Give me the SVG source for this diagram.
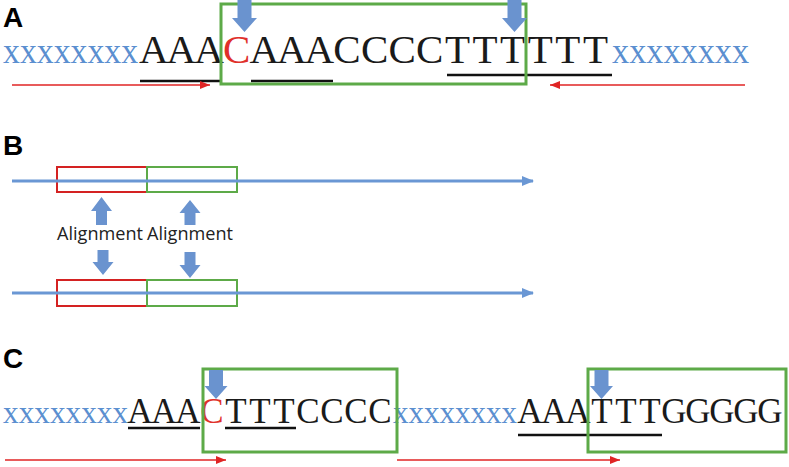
<svg xmlns="http://www.w3.org/2000/svg" width="789" height="467" viewBox="0 0 789 467">
<defs>
<style>
.lbl{font-family:"Liberation Sans",Arial,sans-serif;font-weight:bold;font-size:28px;fill:#000}
.xs{font-family:"Liberation Serif","Times New Roman",serif;fill:#5b8fd0}
.seqA{font-family:"Liberation Serif","Times New Roman",serif;font-size:41px;fill:#1a1a1a;text-anchor:middle}
.seqC{font-family:"Liberation Serif","Times New Roman",serif;font-size:35px;fill:#1a1a1a;text-anchor:middle}
.red{fill:#e0302a}
.ul{stroke:#111;stroke-width:2.5;fill:none}
.gbox{fill:none;stroke:#5daa48;stroke-width:3}
.rbox{fill:none;stroke:#d42222;stroke-width:2}
.gbox2{fill:none;stroke:#5daa48;stroke-width:2}
.blk{fill:#6a93cf}
.bline{stroke:#6a97d4;stroke-width:3;fill:none}
.rarrow{stroke:#e02424;stroke-width:1.5;fill:none;marker-end:url(#rh)}
.al{font-family:"Open Sans","Liberation Sans",sans-serif;font-size:18px;fill:#222}
</style>
<marker id="rh" viewBox="0 0 10 8" refX="10" refY="4" markerWidth="10" markerHeight="8" markerUnits="userSpaceOnUse" orient="auto">
<path d="M0,0 L10,4 L0,8 Z" fill="#e02424"/>
</marker>
<marker id="bh" viewBox="0 0 12 10" refX="11" refY="5" markerWidth="12" markerHeight="10" markerUnits="userSpaceOnUse" orient="auto">
<path d="M0,0 L12,5 L0,10 Z" fill="#6a97d4"/>
</marker>
</defs>
<rect width="789" height="467" fill="#fff"/>

<!-- Panel A -->
<g id="panelA">
<text class="lbl" x="3" y="27">A</text>
<g id="A-seq">
<text class="xs" x="3" y="63" font-size="36" textLength="135" lengthAdjust="spacingAndGlyphs">xxxxxxxx</text>
<text class="seqA" x="153.8 181.4 209" y="63">AAA</text>
<text class="seqA red" x="236.6" y="63">C</text>
<text class="seqA" x="264.2 291.8 319.4 347 374.6 402.2 429.8 457.4 485 512.6 540.2 567.8 595.4" y="63">AAACCCCTTTTTT</text>
<text class="xs" x="612" y="63" font-size="36" textLength="137" lengthAdjust="spacingAndGlyphs">xxxxxxxx</text>
</g>
<g id="A-underlines">
<line class="ul" x1="140" y1="81" x2="222" y2="81"/>
<line class="ul" x1="251" y1="81" x2="333" y2="81"/>
<line class="ul" x1="447" y1="75" x2="612" y2="75"/>
</g>
<rect id="A-box" class="gbox" x="221" y="4" width="305" height="80"/>
<path id="A-cut1" class="blk" d="M237.5,0 L251.5,0 L251.5,18 L257,18 L244.5,32 L232,18 L237.5,18 Z"/>
<path id="A-cut2" class="blk" d="M507.5,0 L521.5,0 L521.5,18 L527,18 L514.5,32 L502,18 L507.5,18 Z"/>
</g>

<!-- Panel B -->
<g id="panelB">
<text class="lbl" x="3" y="155">B</text>
<g id="B-top">
<rect class="rbox" x="57" y="167" width="90" height="25"/>
<rect class="gbox2" x="147" y="167" width="90" height="25"/>
</g>
<g id="B-bottom">
<rect class="rbox" x="57" y="280" width="90" height="26"/>
<rect class="gbox2" x="147" y="280" width="90" height="26"/>
</g>
<text id="B-al1" class="al" x="57" y="240" textLength="86" lengthAdjust="spacingAndGlyphs">Alignment</text>
<text id="B-al2" class="al" x="147" y="240" textLength="86" lengthAdjust="spacingAndGlyphs">Alignment</text>
</g>

<!-- Panel C -->
<g id="panelC">
<text class="lbl" x="3" y="368">C</text>
<g id="C-seq1">
<text class="xs" x="3" y="423" font-size="32" textLength="125" lengthAdjust="spacingAndGlyphs">xxxxxxxx</text>
<text class="seqC" x="140 164 188" y="423">AAA</text>
<text class="seqC red" x="212" y="423">C</text>
<text class="seqC" x="236 260 284 308 332 356 380" y="423">TTTCCCC</text>
</g>
<g id="C-seq2">
<text class="xs" x="393" y="423" font-size="32" textLength="124" lengthAdjust="spacingAndGlyphs">xxxxxxxx</text>
<text class="seqC" x="530 554 578 602 626 650 674 698 722 746 770" y="423">AAATTTGGGGG</text>
</g>
<g id="C-underlines">
<line class="ul" x1="128" y1="428" x2="200" y2="428"/>
<line class="ul" x1="225" y1="428" x2="296" y2="428"/>
<line class="ul" x1="518" y1="435" x2="662" y2="435"/>
</g>
<rect id="C-box1" class="gbox" x="203" y="369" width="194" height="83"/>
<rect id="C-box2" class="gbox" x="588" y="369" width="198" height="83"/>
<path id="C-cut1" class="blk" d="M209,370 L223,370 L223,386 L227.5,386 L216,399 L204.5,386 L209,386 Z"/>
<path id="C-cut2" class="blk" d="M594.5,370 L608.5,370 L608.5,386 L613,386 L601.5,399 L590,386 L594.5,386 Z"/>
</g>

<!-- Connectors -->
<g id="connectors">
<line class="rarrow" x1="12" y1="85" x2="210" y2="85"/>
<line class="rarrow" x1="745" y1="85" x2="550" y2="85"/>
<line class="bline" x1="12" y1="181" x2="533" y2="181" marker-end="url(#bh)"/>
<line class="bline" x1="12" y1="293" x2="533" y2="293" marker-end="url(#bh)"/>
<path class="blk" d="M96,225 L107,225 L107,211 L112,211 L101.5,197 L91,211 L96,211 Z"/>
<path class="blk" d="M184.5,225 L195.5,225 L195.5,213 L200.5,213 L190,200 L179.5,213 L184.5,213 Z"/>
<path class="blk" d="M97.5,250 L108.5,250 L108.5,262 L113.5,262 L103,275 L92.5,262 L97.5,262 Z"/>
<path class="blk" d="M184.5,252 L195.5,252 L195.5,265 L200.5,265 L190,278 L179.5,265 L184.5,265 Z"/>
<line class="rarrow" x1="5" y1="460" x2="226" y2="460"/>
<line class="rarrow" x1="397" y1="460" x2="620" y2="460"/>
</g>
</svg>
